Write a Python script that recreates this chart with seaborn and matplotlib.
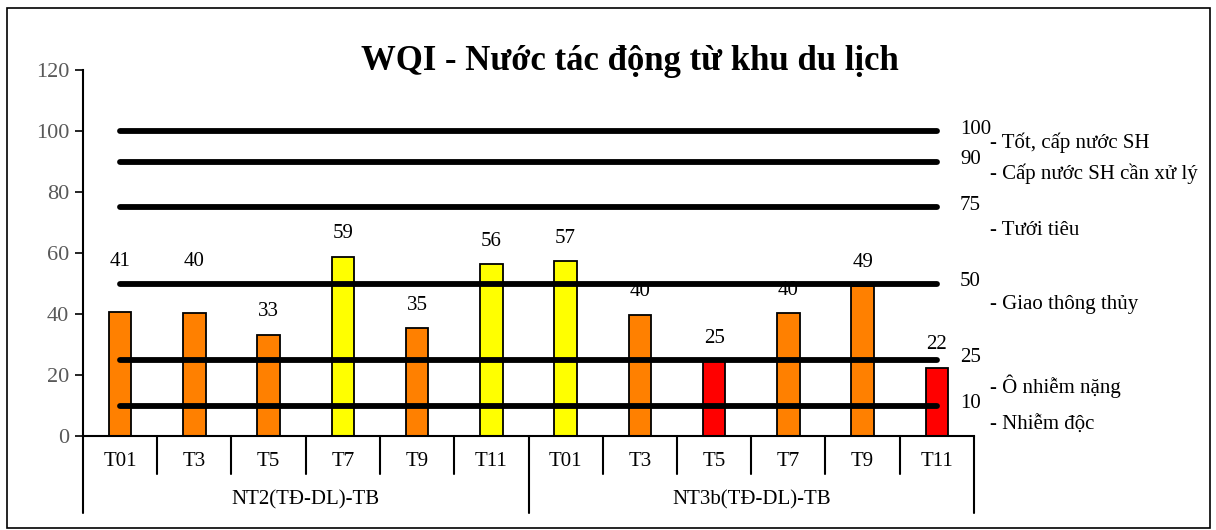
import matplotlib
matplotlib.use("Agg")
import matplotlib.pyplot as plt
import seaborn as sns
import pandas as pd
from matplotlib.patches import Rectangle

# ---- data ----
groups = ["NT2(TĐ-DL)-TB", "NT3b(TĐ-DL)-TB"]
months = ["T01", "T3", "T5", "T7", "T9", "T11"]
nt2_values = [40.7, 40.3, 33.2, 58.8, 35.4, 56.4]
nt3b_values = [57.4, 39.8, 24.6, 40.2, 49.3, 22.4]
nt2_class = ["medium", "medium", "medium", "good", "medium", "good"]
nt3b_class = ["good", "medium", "bad", "medium", "medium", "bad"]
thresholds = [100, 90, 75, 50, 25, 10]
threshold_desc = ["- Tốt, cấp nước SH", "- Cấp nước SH cần xử lý", "- Tưới tiêu",
                  "- Giao thông thủy", "- Ô nhiễm nặng", "- Nhiễm độc"]
title = "WQI - Nước tác động từ khu du lịch"
y_ticks = [0, 20, 40, 60, 80, 100, 120]

palette = {"good": "#FFFF00", "medium": "#FF8000", "bad": "#FF0000"}

rows = []
for g, vals, cls in [(groups[0], nt2_values, nt2_class), (groups[1], nt3b_values, nt3b_class)]:
    for m, v, c in zip(months, vals, cls):
        rows.append({"key": f"{g}|{m}", "group": g, "month": m, "wqi": v, "cls": c})
df = pd.DataFrame(rows)

sns.set_theme(style="white")
plt.rcParams["font.family"] = ["Liberation Serif", "DejaVu Serif"]
plt.rcParams["text.color"] = "black"

fig = plt.figure(figsize=(12.16, 5.30), dpi=100)
ax = fig.add_axes([83 / 1216, 1 - 436 / 530, (974 - 83) / 1216, 366 / 530])

sns.barplot(data=df, x="key", y="wqi", hue="cls", palette=palette, dodge=False,
            saturation=1, width=0.3, edgecolor="black", linewidth=1.3, legend=False,
            ax=ax, zorder=2)

n = len(df)
ax.set_xlim(-0.5, n - 0.5)
ax.set_ylim(0, 120)
ax.set_yticks(y_ticks)
ax.set_yticklabels([str(t) for t in y_ticks], fontsize=16, color="#595959")
ax.tick_params(axis="y", direction="out", length=6, width=1.2, color="black", left=True, pad=4)
ax.set_xticks([])
ax.set_xlabel("")
ax.set_ylabel("")
for s in ["top", "right"]:
    ax.spines[s].set_visible(False)
for s in ["left", "bottom"]:
    ax.spines[s].set_color("black")
    ax.spines[s].set_linewidth(1.5)

# threshold lines
for t in thresholds:
    ax.plot([0, n - 1], [t, t], color="black", lw=4.2, solid_capstyle="round", zorder=3)

# value labels
for i, r in df.iterrows():
    off = 7.5
    if r["group"] == groups[0] and r["month"] in ("T01", "T3"):
        off = 16.5 if r["month"] == "T01" else 17.0
    ax.text(i, r["wqi"] + off, f"{r['wqi']:.0f}", ha="center", va="center",
            fontsize=15, color="black", zorder=4)

# right-side threshold labels
desc_off = [-4, -4, -7.5, -7, -8.6, -6.4]
for t, d, o in zip(thresholds, threshold_desc, desc_off):
    ax.text(n - 1 + 0.31, t + 0.6, str(t), ha="left", va="center", fontsize=15, clip_on=False)
    ax.text(n - 1 + 0.71, t + o, d, ha="left", va="center", fontsize=15, clip_on=False)

# multi-level category axis
tr = ax.get_xaxis_transform()
for i in range(n + 1):
    x = i - 0.5
    low = -0.21 if i in (0, 6, 12) else -0.104
    ax.plot([x, x], [0, low], transform=tr, color="black", lw=1.5, clip_on=False)
for i, r in df.iterrows():
    ax.text(i, -0.071, r["month"], transform=tr, ha="center", va="center", fontsize=15)
for gi, g in enumerate(groups):
    ax.text(gi * 6 + 2.5, -0.175, g, transform=tr, ha="center", va="center", fontsize=15)

# title
fig.text(630 / 1216, 1 - 62 / 530, title, ha="center", va="center",
         fontsize=25, fontweight="bold")

# outer border
fig.patches.append(Rectangle((7 / 1216, 2 / 530), 1203 / 1216, 520 / 530,
                             transform=fig.transFigure, fill=False,
                             edgecolor="black", lw=1.2))

fig.savefig("out.png", dpi=100)
